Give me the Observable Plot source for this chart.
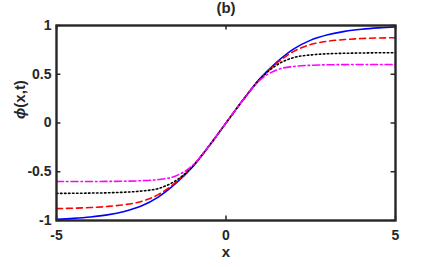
<!DOCTYPE html>
<html>
<head>
<meta charset="utf-8">
<script src="https://cdn.jsdelivr.net/npm/d3@7"></script>
<script src="https://cdn.jsdelivr.net/npm/@observablehq/plot@0.6"></script>
<style>
  html, body { margin: 0; padding: 0; background: #fff; }
</style>
</head>
<body>
<div id="chart"></div>
<script>
const xs = [-5, -4.5, -4, -3.5, -3, -2.5, -2, -1.5, -1, -0.5, 0, 0.5, 1, 1.5, 2, 2.5, 3, 3.5, 4, 4.5, 5];
const blueVals = [-0.987, -0.978, -0.964, -0.942, -0.907, -0.852, -0.76, -0.625, -0.455, -0.235, 0, 0.235, 0.455, 0.625, 0.76, 0.85, 0.905, 0.94, 0.962, 0.976, 0.985];
const redVals = [-0.878, -0.874, -0.867, -0.856, -0.838, -0.805, -0.735, -0.615, -0.45, -0.235, 0, 0.235, 0.45, 0.615, 0.735, 0.805, 0.838, 0.856, 0.866, 0.872, 0.875];
const blackVals = [-0.722, -0.721, -0.719, -0.716, -0.71, -0.698, -0.672, -0.595, -0.45, -0.235, 0, 0.235, 0.45, 0.595, 0.672, 0.698, 0.71, 0.715, 0.718, 0.72, 0.72];
const magentaVals = [-0.6, -0.6, -0.6, -0.599, -0.597, -0.592, -0.58, -0.545, -0.44, -0.235, 0, 0.235, 0.44, 0.545, 0.58, 0.592, 0.597, 0.599, 0.6, 0.6, 0.6];
const xTicks = [-5, 0, 5];
const yTicks = [-1, -0.5, 0, 0.5, 1];
const titleText = "(b)";
const xLabel = "x";
const yLabel = "ϕ(x,t)";

const rows = (vals) => xs.map((x, i) => ({x, y: vals[i]}));
const axisColor = "#262626";
const font = "'Liberation Sans', Arial, Helvetica, sans-serif";

const series = [
  {vals: blueVals, stroke: "#0000ff", dash: null},
  {vals: redVals, stroke: "#ff0000", dash: "6,4"},
  {vals: blackVals, stroke: "#000000", dash: "1.5,2.5"},
  {vals: magentaVals, stroke: "#ff00ff", dash: "7,3,1.5,3"}
];

const chart = Plot.plot({
  width: 436,
  height: 267,
  marginLeft: 56,
  marginRight: 41,
  marginTop: 25,
  marginBottom: 47,
  x: {domain: [-5, 5]},
  y: {domain: [-1, 1]},
  style: {fontFamily: font, fontSize: "14px", fontWeight: "bold", color: axisColor, background: "#fff"},
  marks: [
    ...series.map(s => Plot.line(rows(s.vals), {
      x: "x", y: "y", stroke: s.stroke, strokeWidth: 1.6,
      strokeDasharray: s.dash, curve: "monotone-x"
    })),
    Plot.ruleX(xTicks, {x: d => d, y1: -1, y2: -0.955, stroke: axisColor, strokeWidth: 1.5}),
    Plot.ruleX(xTicks, {x: d => d, y1: 1, y2: 0.955, stroke: axisColor, strokeWidth: 1.5}),
    Plot.ruleY(yTicks, {y: d => d, x1: -5, x2: -4.87, stroke: axisColor, strokeWidth: 1.5}),
    Plot.ruleY(yTicks, {y: d => d, x1: 5, x2: 4.87, stroke: axisColor, strokeWidth: 1.5}),
    Plot.frame({stroke: axisColor, strokeWidth: 2.4}),
    Plot.axisX({ticks: xTicks, tickSize: 0, tickPadding: 10, tickFormat: d => String(d), label: null, fontSize: 14}),
    Plot.axisY({ticks: yTicks, tickSize: 0, tickPadding: 5, tickFormat: d => String(d), label: null, fontSize: 14}),
    Plot.text([titleText], {frameAnchor: "top", dy: -13, lineAnchor: "bottom", text: d => d, fontSize: 15, fontWeight: "bold", fill: axisColor}),
    Plot.text([xLabel], {frameAnchor: "bottom", dy: 36, text: d => d, fontSize: 15, fontWeight: "bold", fill: axisColor}),
    Plot.text([yLabel], {frameAnchor: "left", dx: -36, dy: -4, rotate: -90, text: d => d, fontSize: 15, fontWeight: "bold", fill: axisColor, className: "ylab"})
  ]
});
document.getElementById("chart").appendChild(chart);

// italic phi in the y label
const yl = chart.querySelector(".ylab text");
if (yl) {
  const t = yl.textContent;
  yl.textContent = "";
  const ns = "http://www.w3.org/2000/svg";
  const a = document.createElementNS(ns, "tspan");
  a.setAttribute("font-style", "italic");
  a.textContent = t.slice(0, 1);
  const b = document.createElementNS(ns, "tspan");
  b.textContent = t.slice(1);
  yl.appendChild(a);
  yl.appendChild(b);
}
</script>
</body>
</html>
